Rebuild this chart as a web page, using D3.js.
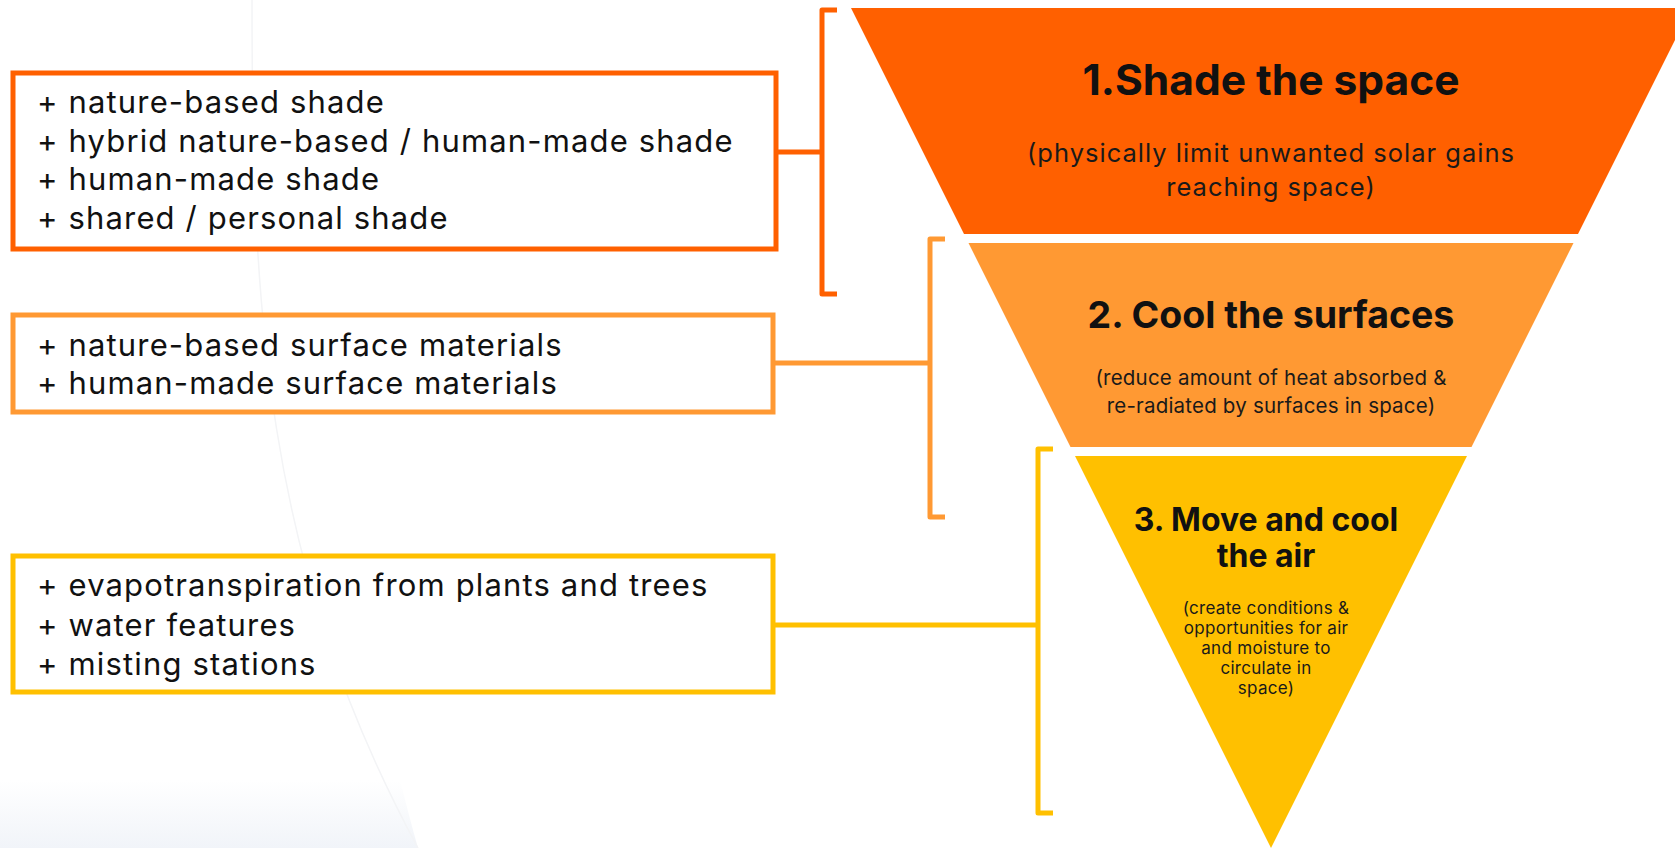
<!DOCTYPE html>
<html>
<head>
<meta charset="utf-8">
<script src="https://cdn.jsdelivr.net/npm/d3@7"></script>
<style>
  body { margin: 0; background: #fff; }
  svg { display: block; font-family: Inter, "Noto Sans", sans-serif; }
</style>
</head>
<body>
<div id="chart"></div>
<script>
// Levels of the cooling hierarchy
const levelTitles = [
    ["1.Shade the space"],
    ["2. Cool the surfaces"],
    ["3. Move and cool", "the air"]
];
const levelNotes = [
    ["(physically limit unwanted solar gains", "reaching space)"],
    ["(reduce amount of heat absorbed &", "re-radiated by surfaces in space)"],
    ["(create conditions &", "opportunities for air", "and moisture to", "circulate in", "space)"]
];
const strategies = [
    ["+ nature-based shade", "+ hybrid nature-based / human-made shade", "+ human-made shade", "+ shared / personal shade"],
    ["+ nature-based surface materials", "+ human-made surface materials"],
    ["+ evapotranspiration from plants and trees", "+ water features", "+ misting stations"]
];
const levelColors = ["#ff6000", "#ff9933", "#ffc000"];

const width = 1675;
const height = 848;

const svg = d3.select('#chart')
    .append('svg')
    .attr('width', width)
    .attr('height', height);

// faint background decoration
const defs = svg.append('defs');
const grad = defs.append('linearGradient')
    .attr('id', 'bgfade')
    .attr('x1', 0).attr('y1', 0).attr('x2', 0).attr('y2', 1);
grad.append('stop').attr('offset', 0).attr('stop-color', '#fff');
grad.append('stop').attr('offset', 1).attr('stop-color', '#f1f4f9');
svg.append('path')
    .attr('d', 'M0,780 L400,780 Q410,820 418,848 L0,848 Z')
    .attr('fill', 'url(#bgfade)');
svg.append('path')
    .attr('d', 'M252,0 C252,300 262,560 418,848')
    .attr('fill', 'none')
    .attr('stroke', '#f3f4f6')
    .attr('stroke-width', 1.5);

// Funnel: one inverted triangle cut into bands
const cx = 1271;
const apexY = 848;
const topY = 8;
const halfWidth = d3.scaleLinear().domain([apexY, topY]).range([0, 420]);
const bandEdges = [[8, 234], [243, 447], [456, 848]];

const funnel = svg.append('g');
funnel.selectAll('path')
    .data(bandEdges)
    .enter()
    .append('path')
    .attr('d', ([y0, y1]) => {
        const p = d3.path();
        p.moveTo(cx - halfWidth(y0), y0);
        p.lineTo(cx + halfWidth(y0), y0);
        p.lineTo(cx + halfWidth(y1), y1);
        p.lineTo(cx - halfWidth(y1), y1);
        p.closePath();
        return p.toString();
    })
    .attr('fill', (d, i) => levelColors[i]);

// Titles and notes inside the funnel
const titleStyle = [
    { size: 42.5, y: [95], noteSize: 25.5, noteLs: 1.0, noteY: [162, 196] },
    { size: 37.5, y: [328], noteSize: 20.5, noteLs: 0.2, noteY: [385, 413] },
    { size: 32, y: [531, 567], noteSize: 17, noteLs: 0.3, noteY: [614, 634, 654, 674, 694] }
];
const labels = funnel.selectAll('g.label')
    .data(levelTitles)
    .enter()
    .append('g')
    .attr('class', 'label');

labels.each(function(lines, i) {
    const g = d3.select(this);
    const st = titleStyle[i];
    const tx = i === 2 ? cx - 5 : cx;
    g.selectAll('text.title')
        .data(lines)
        .enter()
        .append('text')
        .attr('class', 'title')
        .attr('x', tx)
        .attr('y', (d, j) => st.y[j])
        .attr('text-anchor', 'middle')
        .attr('font-size', st.size)
        .attr('font-weight', 700)
        .attr('fill', '#111')
        .text(d => d);
    g.selectAll('text.note')
        .data(levelNotes[i])
        .enter()
        .append('text')
        .attr('class', 'note')
        .attr('x', tx)
        .attr('y', (d, j) => st.noteY[j])
        .attr('text-anchor', 'middle')
        .attr('font-size', st.noteSize)
        .attr('letter-spacing', st.noteLs)
        .attr('fill', '#1a1a1a')
        .text(d => d);
});

// Strategy boxes on the left
const boxes = [
    { x0: 13, x1: 776, y0: 73, y1: 249, lineY: [113, 151.5, 190, 228.5], linkY: 152 },
    { x0: 13, x1: 773, y0: 315, y1: 412, lineY: [356, 394], linkY: 363 },
    { x0: 13, x1: 773, y0: 556, y1: 692, lineY: [596, 635.5, 675], linkY: 625 }
];
const brackets = [
    { x: 822, y0: 10, y1: 294 },
    { x: 930, y0: 239, y1: 517 },
    { x: 1038, y0: 449, y1: 813 }
];

const groups = svg.selectAll('g.strategy')
    .data(strategies)
    .enter()
    .append('g')
    .attr('class', 'strategy');

groups.each(function(items, i) {
    const g = d3.select(this);
    const b = boxes[i];
    const br = brackets[i];
    const col = levelColors[i];

    g.append('rect')
        .attr('x', b.x0)
        .attr('y', b.y0)
        .attr('width', b.x1 - b.x0)
        .attr('height', b.y1 - b.y0)
        .attr('fill', '#fff')
        .attr('stroke', col)
        .attr('stroke-width', 5);

    g.append('line')
        .attr('x1', b.x1)
        .attr('x2', br.x)
        .attr('y1', b.linkY)
        .attr('y2', b.linkY)
        .attr('stroke', col)
        .attr('stroke-width', 5);

    g.append('path')
        .attr('d', `M${br.x + 15},${br.y0} H${br.x} V${br.y1} H${br.x + 15}`)
        .attr('fill', 'none')
        .attr('stroke', col)
        .attr('stroke-width', 5)
        .attr('stroke-linejoin', 'round');

    g.selectAll('text')
        .data(items)
        .enter()
        .append('text')
        .attr('x', 37)
        .attr('y', (d, j) => b.lineY[j])
        .attr('font-size', 31)
        .attr('letter-spacing', 1.15)
        .attr('fill', '#111')
        .text(d => d);
});
</script>
</body>
</html>
